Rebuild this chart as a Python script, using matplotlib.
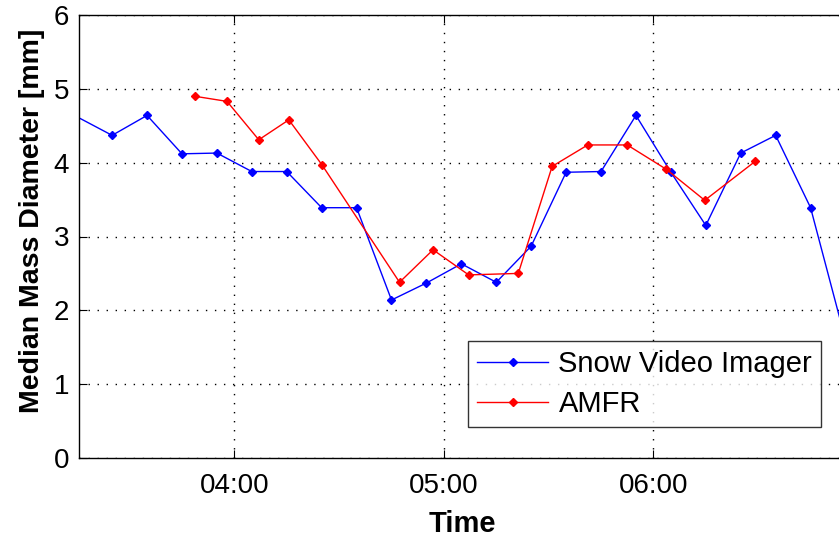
import matplotlib
matplotlib.use("Agg")
import matplotlib.pyplot as plt
import matplotlib.dates as mdates
import pandas as pd

plt.rcParams['font.family'] = ['Liberation Sans', 'DejaVu Sans']

# ---- data ----
svi_times = ["03:15", "03:25", "03:35", "03:45", "03:55", "04:05", "04:15", "04:25",
             "04:35", "04:45", "04:55", "05:05", "05:15", "05:25", "05:35", "05:45",
             "05:55", "06:05", "06:15", "06:25", "06:35", "06:45", "06:55"]
svi_values = [4.62, 4.37, 4.64, 4.12, 4.13, 3.88, 3.88, 3.39,
              3.39, 2.14, 2.37, 2.63, 2.38, 2.87, 3.87, 3.88,
              4.64, 3.87, 3.15, 4.13, 4.37, 3.39, 1.60]

amfr_times = ["03:48:36", "03:57:54", "04:07:00", "04:15:36", "04:25:06",
              "04:47:18", "04:56:54", "05:07:06", "05:21:18", "05:31:00",
              "05:41:12", "05:52:30", "06:03:42", "06:14:42", "06:29:12"]
amfr_values = [4.90, 4.83, 4.31, 4.58, 3.97,
               2.38, 2.82, 2.48, 2.50, 3.95,
               4.24, 4.24, 3.91, 3.49, 4.02]

xtick_labels = ["04:00", "05:00", "06:00"]
ytick_values = [0, 1, 2, 3, 4, 5, 6]

series_names = ["Snow Video Imager", "AMFR"]
day = "2010-01-01 "

def to_dt(ts):
    return pd.to_datetime([day + t for t in ts])

svi_x = to_dt(svi_times)
amfr_x = to_dt(amfr_times)

# ---- figure ----
W, H = 839, 542
fig = plt.figure(figsize=(W / 100, H / 100), dpi=100)
left_px, right_px, top_px, bot_px = 78.7, 845.5, 15, 458
ax = fig.add_axes([left_px / W, (H - bot_px) / H, (right_px - left_px) / W, (bot_px - top_px) / H])

ax.plot(svi_x, svi_values, color='blue', lw=1.0, marker='D', ms=4.4,
        markevery=slice(1, None), label=series_names[0])
ax.plot(amfr_x, amfr_values, color='red', lw=1.0, marker='D', ms=4.4,
        label=series_names[1])

ax.set_xlim(pd.Timestamp(day + "03:15:26"), pd.Timestamp(day + "06:55:00"))
ax.set_ylim(0, 6)
ax.set_xticks(to_dt(xtick_labels))
ax.xaxis.set_major_formatter(mdates.DateFormatter('%H:%M'))
ax.set_yticks(ytick_values)

ax.grid(True, color='black', linestyle=(0, (1.0, 5.5)), linewidth=1.0)
ax.tick_params(direction='in', length=6, width=0.8, labelsize=20, top=True, right=True,
               colors='black')
ax.tick_params(axis='x', pad=11)
ax.tick_params(axis='y', pad=7)
for s in ax.spines.values():
    s.set_linewidth(1.0)

ax.set_xlabel("Time", fontsize=21, fontweight='bold', labelpad=8)
ax.set_ylabel("Median Mass Diameter [mm]", fontsize=20.5, fontweight='bold', labelpad=6)
ax.yaxis.label.set_y(0.535)

leg = ax.legend(loc='lower right',
                bbox_to_anchor=((821 - left_px) / (right_px - left_px), (bot_px - 427) / (bot_px - top_px)),
                fontsize=21, frameon=True, fancybox=False, edgecolor='black',
                handlelength=2.45, handletextpad=0.35, borderpad=0.3, labelspacing=0.43,
                borderaxespad=0)
leg.get_frame().set_linewidth(1.0)

fig.savefig("out.png", dpi=100)
